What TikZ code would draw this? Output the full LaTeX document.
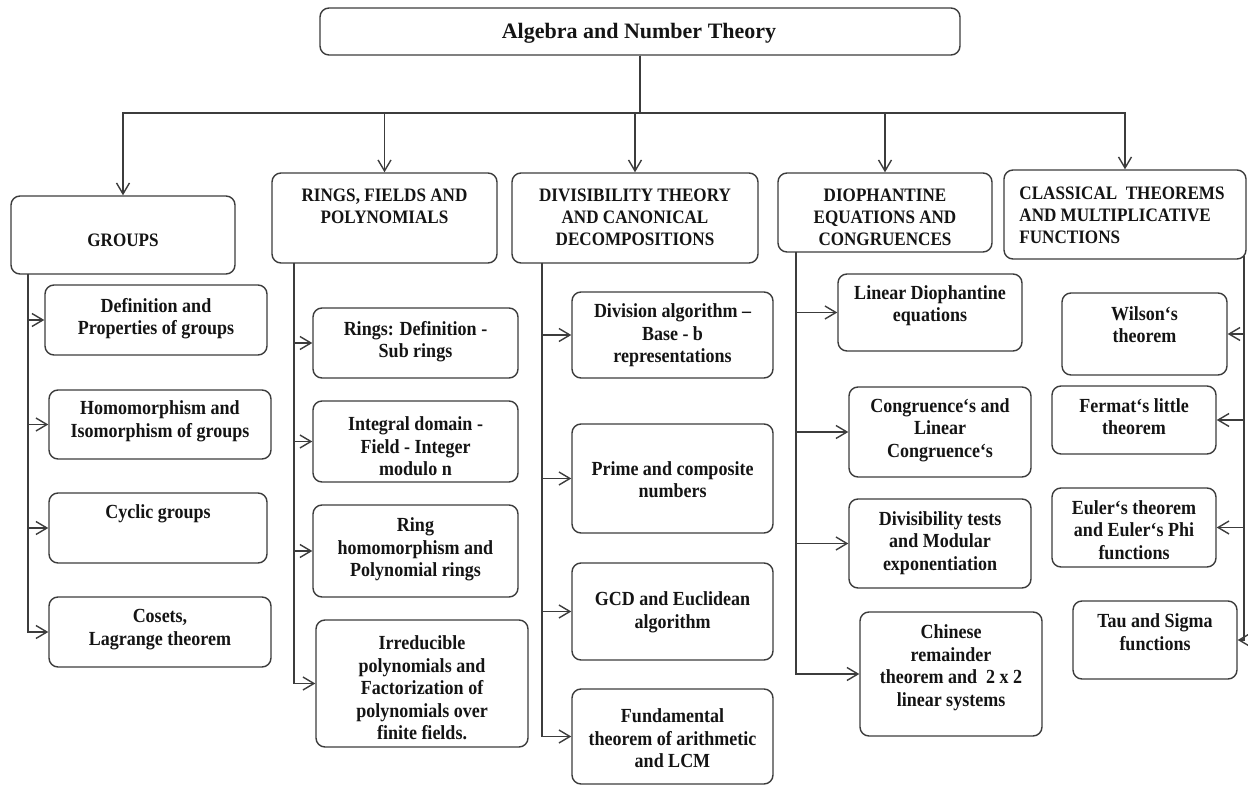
\documentclass[tikz,border=0pt]{standalone}
\usepackage{fontspec}
\setmainfont{Liberation Serif}
\newfontfamily\cellfont{Liberation Serif}[FakeStretch=0.9]
\usetikzlibrary{arrows.meta,fit}
\definecolor{edge}{HTML}{3C3C3C}
\definecolor{ink}{HTML}{141414}

\tikzset{
  cell/.style={draw=edge, line width=0.7pt, rounded corners=4.5pt, inner sep=0pt},
  txt/.style={inner sep=0pt, align=center, text=ink,
    font=\cellfont\bfseries\fontsize{10}{11.25}\selectfont},
  head/.style={txt, font=\cellfont\bfseries\fontsize{9.5}{11}\selectfont},
  link/.style={draw=edge, line width=0.7pt},
  arr/.style={link, -{Straight Barb[length=5.5pt,width=6.5pt]}},
}

% #1 name, #2 text style, #3-#6 box corners, #7 text centre height, #8 text
\newcommand{\cellbox}[8]{%
  \node[cell, fit={(#3,#4) (#5,#6)}] (#1) {};
  \node[#2] (#1t) at ({(#3+#5)/2},#7) {#8};}

\begin{document}
\begin{tikzpicture}[x=0.5pt,y=-0.5pt]
\useasboundingbox (0,0) rectangle (1248,785);

% root
\node[cell, fit={(320,8) (960,55)}] (title) {};
\node[inner sep=0pt, text=ink, font=\bfseries\fontsize{11}{13}\selectfont] (titlet) at (639,33) {Algebra and Number Theory};

% main branches
\cellbox{groups}{head}{11}{196}{235}{274}{240}{GROUPS}
\cellbox{rings}{head}{272}{173}{497}{263}{206.5}{RINGS, FIELDS AND\\POLYNOMIALS}
\cellbox{divis}{head}{512}{173}{758}{263}{217.5}{DIVISIBILITY THEORY\\AND CANONICAL\\DECOMPOSITIONS}
\cellbox{dioph}{head}{778}{173}{992}{252}{217}{DIOPHANTINE\\EQUATIONS AND\\CONGRUENCES}
\node[cell, fit={(1004,170) (1246,259)}] (classic) {};
\node[head, align=left, anchor=west] (classict) at (1019,215) {CLASSICAL\ \ THEOREMS\\AND MULTIPLICATIVE\\FUNCTIONS};

% groups
\cellbox{g1}{txt}{45}{285}{267}{355}{318.5}{Definition and\\Properties of groups}
\cellbox{g2}{txt}{49}{390}{271}{459}{421.5}{Homomorphism and\\Isomorphism of groups}
\cellbox{g3}{txt}{49}{493}{267}{563}{514}{Cyclic groups}
\cellbox{g4}{txt}{49}{597}{271}{667}{629.5}{Cosets,\\Lagrange theorem}

% rings, fields and polynomials
\cellbox{r1}{txt}{313}{308}{518}{378}{341.5}{Rings: Definition -\\Sub rings}
\cellbox{r2}{txt}{313}{401}{518}{482}{446.5}{Integral domain -\\Field - Integer\\modulo n}
\cellbox{r3}{txt}{313}{505}{518}{597}{549.5}{Ring\\homomorphism and\\Polynomial rings}
\cellbox{r4}{txt}{316}{620}{528}{747}{688}{Irreducible\\polynomials and\\Factorization of\\polynomials over\\finite fields.}

% divisibility theory
\cellbox{d1}{txt}{572}{292}{773}{378}{335.5}{Division algorithm –\\Base - b\\representations}
\cellbox{d2}{txt}{572}{424}{773}{533}{479.5}{Prime and composite\\numbers}
\cellbox{d3}{txt}{572}{563}{773}{660}{612.5}{GCD and Euclidean\\algorithm}
\cellbox{d4}{txt}{572}{689}{773}{784}{738.5}{Fundamental\\theorem of arithmetic\\and LCM}

% diophantine equations
\cellbox{p1}{txt}{838}{274}{1022}{351}{305.5}{Linear Diophantine\\equations}
\cellbox{p2}{txt}{849}{387}{1031}{477}{430}{Congruence‘s and\\Linear\\Congruence‘s}
\cellbox{p3}{txt}{849}{499}{1031}{588}{543}{Divisibility tests\\and Modular\\exponentiation}
\cellbox{p4}{txt}{860}{612}{1042}{736}{667.5}{Chinese\\remainder\\theorem and\ \ 2 x 2\\linear systems}

% classical theorems
\cellbox{c1}{txt}{1062}{293}{1227}{375}{324.5}{Wilson‘s\\theorem}
\cellbox{c2}{txt}{1052}{386}{1216}{454}{416.5}{Fermat‘s little\\theorem}
\cellbox{c3}{txt}{1052}{488}{1216}{567}{530}{Euler‘s theorem\\and Euler‘s Phi\\functions}
\cellbox{c4}{txt}{1073}{601}{1237}{679}{632}{Tau and Sigma\\functions}

% trunk and bus
\coordinate (bus) at (640,113);
\foreach \k in {groups,rings,divis,dioph,classic}
  \draw[arr] (title.south) -- (bus) -| (\k.north);

% spines
\coordinate (gsp) at (28,274);
\coordinate (rsp) at (294,263);
\coordinate (dsp) at (542,263);
\coordinate (psp) at (796,252);
\coordinate (csp) at (1244,256);
\foreach \k in {g1,g2,g3,g4} \draw[arr] (gsp) |- (\k.west);
\foreach \k in {r1,r2,r3,r4} \draw[arr] (rsp) |- (\k.west);
\foreach \k in {d1,d2,d3,d4} \draw[arr] (dsp) |- (\k.west);
\foreach \k in {p1,p2,p3,p4} \draw[arr] (psp) |- (\k.west);
\foreach \k in {c1,c2,c3,c4} \draw[arr] (csp) |- (\k.east);
\end{tikzpicture}
\end{document}
